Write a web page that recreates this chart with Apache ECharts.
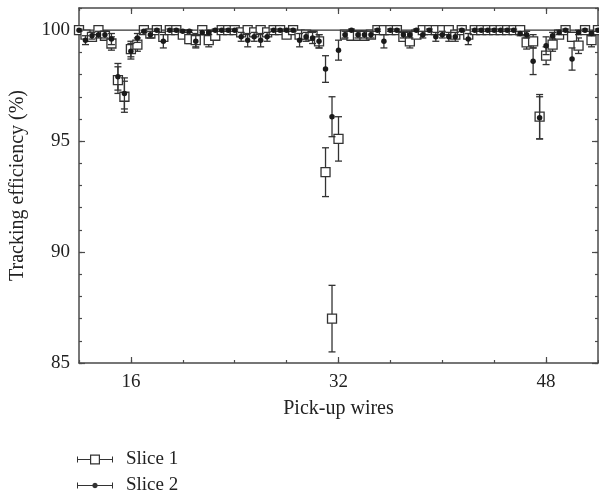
<!DOCTYPE html>
<html>
<head>
<meta charset="utf-8">
<script src="https://cdn.jsdelivr.net/npm/echarts@6/dist/echarts.min.js"></script>
<style>html,body{margin:0;padding:0;background:#fff}#c{width:599px;height:496px}</style>
</head>
<body>
<div id="c"></div>
<script>
// Pick-up wire positions
const wires = [12,12.5,13,13.5,14,14.5,15,15.5,16,16.5,17,17.5,18,18.5,19,19.5,20,20.5,21,21.5,22,22.5,23,23.5,24,24.5,25,25.5,26,26.5,27,27.5,28,28.5,29,29.5,30,30.5,31,31.5,32,32.5,33,33.5,34,34.5,35,35.5,36,36.5,37,37.5,38,38.5,39,39.5,40,40.5,41,41.5,42,42.5,43,43.5,44,44.5,45,45.5,46,46.5,47,47.5,48,48.5,49,49.5,50,50.5,51,51.5,52];
// Slice 1 efficiency (%) and errors
const slice1 = [100,99.8,99.7,100,99.75,99.4,97.75,97.0,99.15,99.35,100,99.85,100,99.7,100,100,99.8,99.6,99.55,100,99.55,99.75,100,100,100,99.9,100,99.9,100,99.9,100,100,99.8,100,99.8,99.8,99.75,99.5,93.6,87.0,95.1,99.8,99.75,99.75,99.75,99.8,100,100,100,100,99.7,99.5,99.8,100,100,100,100,100,99.8,100,99.8,100,100,100,100,100,100,100,100,99.45,99.5,96.1,98.85,99.35,99.8,100,99.7,99.3,100,99.55,100];
const slice1Err = [0.05,0.15,0.2,0.05,0.2,0.3,0.6,0.7,0.35,0.3,0.05,0.1,0.05,0.2,0.05,0.05,0.15,0.2,0.3,0.05,0.3,0.2,0.05,0.05,0.05,0.1,0.05,0.1,0.05,0.1,0.05,0.05,0.15,0.05,0.15,0.15,0.2,0.3,1.1,1.5,1.0,0.15,0.2,0.2,0.2,0.15,0.05,0.05,0.05,0.05,0.2,0.3,0.15,0.05,0.05,0.05,0.05,0.05,0.15,0.05,0.15,0.05,0.05,0.05,0.05,0.05,0.05,0.05,0.05,0.3,0.3,1.0,0.4,0.3,0.15,0.05,0.2,0.35,0.05,0.3,0.05];
// Slice 2 efficiency (%) and errors
const slice2 = [100,99.55,99.75,99.8,99.8,99.6,97.9,97.15,99.05,99.65,99.95,99.8,100,99.5,100,100,99.95,99.95,99.5,99.9,99.9,100,100,100,100,99.7,99.55,99.7,99.55,99.7,100,100,100,100,99.55,99.7,99.65,99.5,98.25,96.1,99.1,99.8,100,99.8,99.8,99.8,100,99.5,100,100,99.8,99.8,100,99.8,100,99.7,99.8,99.7,99.7,100,99.6,100,100,100,100,100,100,100,99.85,99.8,98.6,96.05,99.3,99.75,99.9,100,98.7,99.9,100,99.85,100];
const slice2Err = [0.05,0.2,0.15,0.15,0.15,0.25,0.6,0.7,0.35,0.2,0.05,0.15,0.05,0.3,0.05,0.05,0.05,0.05,0.3,0.1,0.1,0.05,0.05,0.05,0.05,0.2,0.3,0.2,0.3,0.2,0.05,0.05,0.05,0.05,0.3,0.2,0.25,0.3,0.6,0.9,0.45,0.15,0.05,0.15,0.15,0.15,0.05,0.3,0.05,0.05,0.15,0.15,0.05,0.15,0.05,0.2,0.15,0.2,0.2,0.05,0.25,0.05,0.05,0.05,0.05,0.05,0.05,0.05,0.1,0.15,0.6,0.95,0.4,0.15,0.1,0.05,0.5,0.1,0.05,0.1,0.05];
const xTickLabels = [16,32,48];
const yTickLabels = [85,90,95,100];
const referenceLevel = 100;
const seriesNames = ['Slice 1','Slice 2'];

const FONT = 'Liberation Serif';
const AX = '#4a4a4a';

function triples(vals, errs){ return wires.map((w,i)=>[w, vals[i], errs[i]]); }

function errRender(params, api){
  const x = api.value(0), y = api.value(1), e = api.value(2);
  const hi = api.coord([x, y+e]), lo = api.coord([x, y-e]);
  const cw = 3.5;
  const style = {stroke:'#333', lineWidth:1.3, fill:null};
  return {type:'group', children:[
    {type:'line', shape:{x1:hi[0],y1:hi[1],x2:lo[0],y2:lo[1]}, style:style},
    {type:'line', shape:{x1:hi[0]-cw,y1:hi[1],x2:hi[0]+cw,y2:hi[1]}, style:style},
    {type:'line', shape:{x1:lo[0]-cw,y1:lo[1],x2:lo[0]+cw,y2:lo[1]}, style:style}
  ]};
}

const xMin = 12, xMax = 52, yMin = 85, yMax = 101;
function xAx(pos, major, labels){
  const a = {type:'value', min:xMin, max:xMax, position:pos, gridIndex:0,
    splitLine:{show:false},
    axisLine:{show:major, onZero:false, lineStyle:{color:AX, width:1.5}},
    axisTick:{show:true, inside:true, length: major?6:3, lineStyle:{color:AX, width:1.2}},
    axisLabel:{show:false}};
  if(major){ a.axisTick.customValues = xTickLabels; }
  else { a.interval = 4; }
  if(labels){
    a.axisLabel = {show:true, customValues:xTickLabels, margin:10, fontSize:19, fontFamily:FONT, color:'#222'};
    a.name = 'Pick-up wires'; a.nameLocation='middle'; a.nameGap=36;
    a.nameTextStyle = {fontSize:20, fontFamily:FONT, color:'#222'};
  }
  return a;
}
function yAx(pos, major, labels){
  const a = {type:'value', min:yMin, max:yMax, position:pos, gridIndex:0,
    splitLine:{show:false},
    axisLine:{show:major, onZero:false, lineStyle:{color:AX, width:1.5}},
    axisTick:{show:true, inside:true, length: major?6:3, lineStyle:{color:AX, width:1.2}},
    axisLabel:{show:false}};
  if(major){ a.axisTick.customValues = yTickLabels; }
  else { a.interval = 1; }
  if(labels){
    a.axisLabel = {show:true, customValues:yTickLabels, margin:9, fontSize:19, fontFamily:FONT, color:'#222'};
    a.name = 'Tracking efficiency (%)'; a.nameLocation='middle'; a.nameGap=51;
    a.nameTextStyle = {fontSize:20, fontFamily:FONT, color:'#222'};
  }
  return a;
}

const icon1 = 'path://M0,2h1v6h-1z M1,4.4h12v1.2h-12z M13,0h10v1.2h-10z M13,8.8h10v1.2h-10z M13,0h1.2v10h-1.2z M21.8,0h1.2v10h-1.2z M23,4.4h12v1.2h-12z M35,2h1v6h-1z';
const icon2 = 'path://M0,2h1v6h-1z M1,4.4h34v1.2h-34z M35,2h1v6h-1z M15.2,5L16,3L18,2.2L20,3L20.8,5L20,7L18,7.8L16,7Z';

const chart = echarts.init(document.getElementById('c'), null, {renderer:'canvas'});
chart.setOption({
  animation:false,
  backgroundColor:'#fff',
  grid:{left:78, right:1, top:8, bottom:133, containLabel:false},
  xAxis:[xAx('bottom',true,true), xAx('bottom',false,false), xAx('top',true,false), xAx('top',false,false)],
  yAxis:[yAx('left',true,true), yAx('left',false,false), yAx('right',true,false), yAx('right',false,false)],
  legend:{
    orient:'vertical', left:77, top:450, height:46, padding:0, itemGap:7,
    itemWidth:36, itemHeight:10,
    textStyle:{fontSize:19, fontFamily:FONT, color:'#222', padding:[0,0,0,8]},
    data:[
      {name:seriesNames[0], icon:icon1, itemStyle:{color:'#333', borderWidth:0}},
      {name:seriesNames[1], icon:icon2, itemStyle:{color:'#333', borderWidth:0}}
    ]
  },
  series:[
    {type:'line', name:'ref', xAxisIndex:0, yAxisIndex:0, data:[[xMin,referenceLevel],[xMax,referenceLevel]],
      symbol:'none', lineStyle:{color:'#333', width:1.2}, z:1, silent:true},
    {type:'custom', name:'Slice 1 err', xAxisIndex:0, yAxisIndex:0, renderItem:errRender,
      data:triples(slice1, slice1Err), encode:{x:0,y:1}, z:2, clip:true},
    {type:'scatter', name:seriesNames[0], xAxisIndex:0, yAxisIndex:0, data:triples(slice1, slice1Err), encode:{x:0,y:1},
      symbol:'rect', symbolSize:9, itemStyle:{color:'#fff', borderColor:'#333', borderWidth:1.3, opacity:1}, z:3},
    {type:'custom', name:'Slice 2 err', xAxisIndex:0, yAxisIndex:0, renderItem:errRender,
      data:triples(slice2, slice2Err), encode:{x:0,y:1}, z:4, clip:true},
    {type:'scatter', name:seriesNames[1], xAxisIndex:0, yAxisIndex:0, data:triples(slice2, slice2Err), encode:{x:0,y:1},
      symbol:'circle', symbolSize:5.5, itemStyle:{color:'#1a1a1a', opacity:1}, z:5}
  ]
});
</script>
</body>
</html>
